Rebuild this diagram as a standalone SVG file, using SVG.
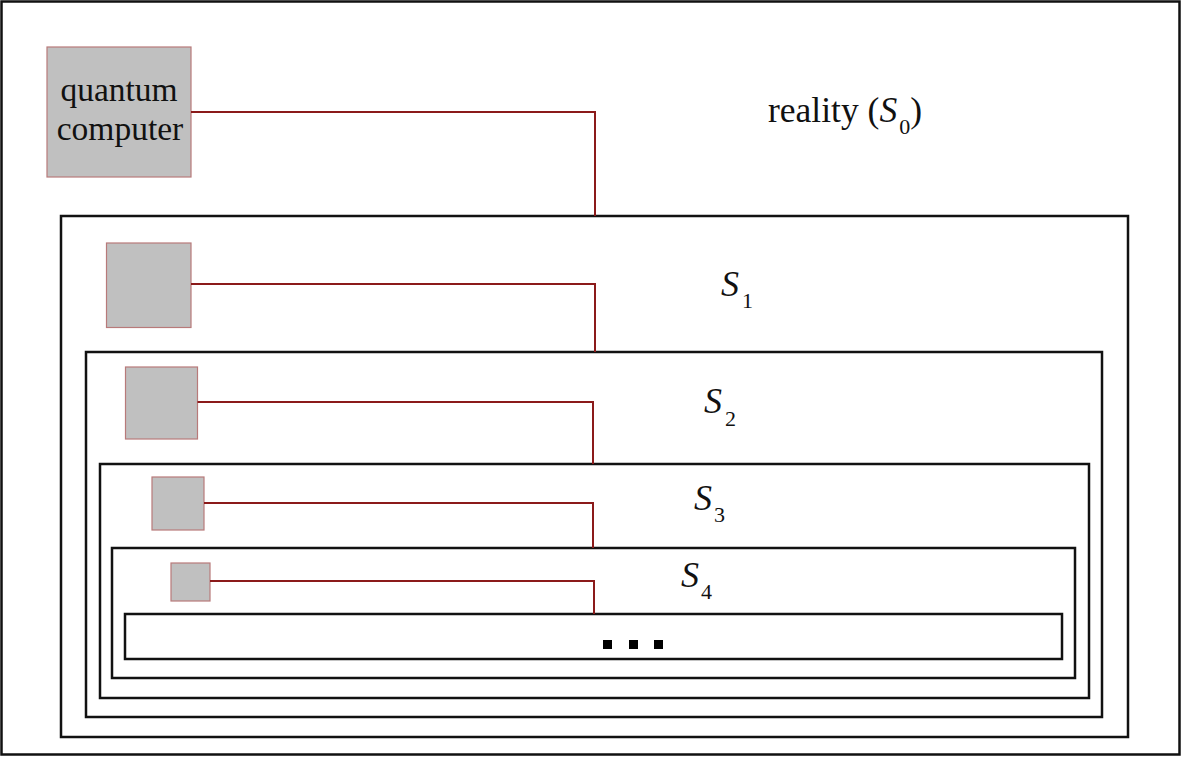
<svg xmlns="http://www.w3.org/2000/svg" width="1181" height="757" viewBox="0 0 1181 757">
<style>
.frame{fill:none;stroke:#111;stroke-width:2.5}
.qc{fill:#c0c0c0;stroke:#b87a7a;stroke-width:1.2}
.wire{fill:none;stroke:#8b1a1a;stroke-width:2}
.t{font-family:"Liberation Serif","Times New Roman",serif;fill:#111}
.s{font-style:italic;font-size:36px}
.sub{font-style:normal;font-size:22px}
.dot{fill:#000}
</style>
<rect x="0" y="0" width="1181" height="757" fill="#fff"/>
<g id="reality">
<rect class="frame" x="1.5" y="1.5" width="1178" height="753"/>
<text class="t" x="768" y="122" font-size="35.5">reality (<tspan font-style="italic">S</tspan><tspan font-size="22" dx="2" dy="12">0</tspan><tspan dy="-12">)</tspan></text>
</g>
<g id="S1">
<rect class="frame" x="61" y="216" width="1067" height="521"/>
<text class="t s" x="721" y="296">S<tspan class="sub" dx="3" dy="12">1</tspan></text>
</g>
<g id="S2">
<rect class="frame" x="86" y="352" width="1016" height="365"/>
<text class="t s" x="704" y="413">S<tspan class="sub" dx="3" dy="13">2</tspan></text>
</g>
<g id="S3">
<rect class="frame" x="100" y="464" width="989" height="234"/>
<text class="t s" x="694" y="510">S<tspan class="sub" dx="2" dy="12">3</tspan></text>
</g>
<g id="S4">
<rect class="frame" x="112" y="548" width="963" height="130"/>
<text class="t s" x="681" y="587">S<tspan class="sub" dx="2" dy="12">4</tspan></text>
</g>
<g id="S5">
<rect class="frame" x="125" y="614" width="937" height="45"/>
<rect class="dot" x="603" y="640" width="9" height="9"/>
<rect class="dot" x="629" y="640" width="9" height="9"/>
<rect class="dot" x="654" y="640" width="9" height="9"/>
</g>
<g id="qc0">
<rect class="qc" x="47" y="47" width="144" height="130"/>
<text class="t" x="119" y="101" font-size="33.5" text-anchor="middle">quantum</text>
<text class="t" x="120" y="140" font-size="33.5" text-anchor="middle">computer</text>
</g>
<g id="qc1"><rect class="qc" x="106.5" y="243" width="84.5" height="84.5"/></g>
<g id="qc2"><rect class="qc" x="125.5" y="367" width="72" height="72"/></g>
<g id="qc3"><rect class="qc" x="152" y="477" width="52" height="53"/></g>
<g id="qc4"><rect class="qc" x="171" y="563" width="39" height="38"/></g>
<g id="connectors">
<polyline class="wire" points="191,112 595,112 595,216"/>
<polyline class="wire" points="191,284 595,284 595,352"/>
<polyline class="wire" points="197.5,402 593,402 593,464"/>
<polyline class="wire" points="204,503 593,503 593,548"/>
<polyline class="wire" points="210,581 594,581 594,614"/>
</g>
</svg>
